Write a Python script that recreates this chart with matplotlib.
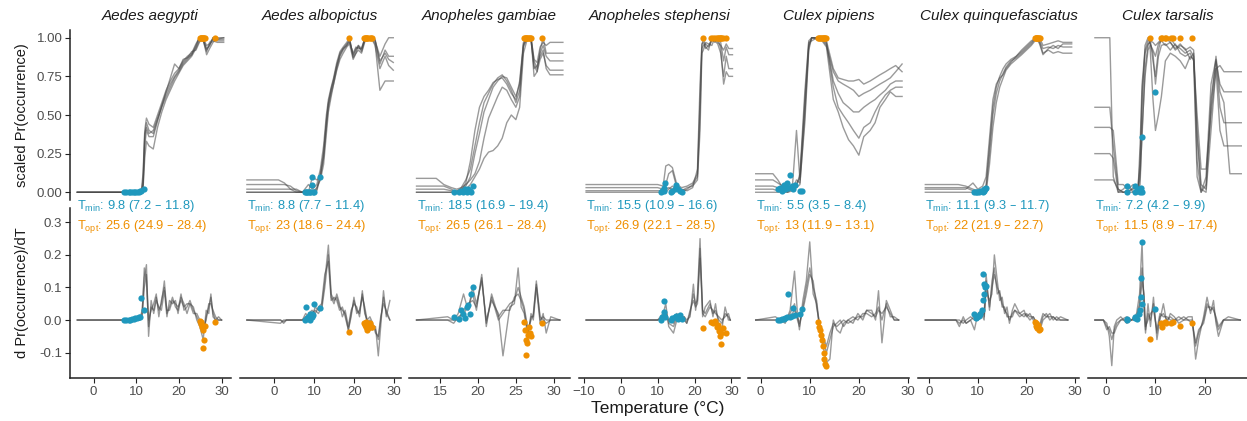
import matplotlib

matplotlib.use("Agg")
import matplotlib.pyplot as plt
import matplotlib.transforms as mtransforms

plt.rcParams["font.family"] = ["Liberation Sans", "DejaVu Sans"]
plt.rcParams["mathtext.default"] = "regular"

# ---- data --------------------------------------------------------------
SPECIES = ["Aedes aegypti", "Aedes albopictus", "Anopheles gambiae",
           "Anopheles stephensi", "Culex pipiens", "Culex quinquefasciatus",
           "Culex tarsalis"]

TMIN_LABEL = ["9.8 (7.2 – 11.8)", "8.8 (7.7 – 11.4)", "18.5 (16.9 – 19.4)",
              "15.5 (10.9 – 16.6)", "5.5 (3.5 – 8.4)", "11.1 (9.3 – 11.7)",
              "7.2 (4.2 – 9.9)"]
TOPT_LABEL = ["25.6 (24.9 – 28.4)", "23 (18.6 – 24.4)", "26.5 (26.1 – 28.4)",
              "26.9 (22.1 – 28.5)", "13 (11.9 – 13.1)", "22 (21.9 – 22.7)",
              "11.5 (8.9 – 17.4)"]

XTICKS = [[0, 10, 20, 30], [0, 10, 20, 30], [15, 20, 25, 30],
          [-10, 0, 10, 20, 30], [0, 10, 20, 30], [0, 10, 20, 30], [0, 10, 20]]

# Aedes aegypti
AEG_T = [-3.8, 10.5, 11.2, 11.6, 12.0, 12.4, 13.0, 14.0, 15.0, 16.0, 17.0, 18.0, 19.0,
         20.0, 21.0, 22.0, 23.0, 24.0, 24.8, 25.6, 26.5, 27.2, 28.0, 29.0, 30.5]
AEG_P = [
    [0, 0, 0, 0.05, 0.35, 0.45, 0.40, 0.38, 0.47, 0.55, 0.62, 0.68, 0.74, 0.78, 0.83, 0.86, 0.89, 0.95, 1.00, 1.00, 0.93, 0.95, 1.00, 0.99, 0.99],
    [0, 0, 0.01, 0.12, 0.40, 0.48, 0.44, 0.42, 0.50, 0.58, 0.66, 0.72, 0.77, 0.80, 0.85, 0.88, 0.90, 0.96, 1.00, 0.99, 0.91, 0.97, 0.99, 0.98, 0.98],
    [0, 0, 0, 0.02, 0.22, 0.33, 0.30, 0.28, 0.42, 0.52, 0.60, 0.66, 0.72, 0.77, 0.82, 0.85, 0.88, 0.93, 0.98, 1.00, 0.89, 0.93, 0.97, 1.00, 1.00],
    [0, 0, 0, 0.03, 0.30, 0.40, 0.36, 0.36, 0.46, 0.56, 0.65, 0.74, 0.83, 0.80, 0.86, 0.87, 0.91, 0.92, 0.97, 1.00, 0.95, 0.96, 0.98, 0.97, 0.97],
    [0, 0, 0, 0.08, 0.38, 0.42, 0.38, 0.40, 0.48, 0.56, 0.64, 0.70, 0.75, 0.79, 0.84, 0.87, 0.89, 0.94, 1.00, 1.00, 0.92, 0.95, 1.00, 0.99, 1.00],
]
AEG_DT = [-3.8, 10.8, 11.4, 11.9, 12.4, 12.9, 13.5, 14.1, 14.7, 15.3, 15.9, 16.6, 17.2, 17.8,
          18.5, 19.2, 19.8, 20.5, 21.2, 21.9, 22.6, 23.4, 24.2, 24.9, 25.7, 26.4, 27.0, 27.5,
          28.0, 28.6, 29.3, 30.0]
AEG_D = [
    [0, 0, 0.02, 0.16, 0.12, -0.02, 0.04, 0.03, 0.07, 0.03, 0.05, 0.12, 0.02, 0.04, 0.07, 0.04, 0.03, 0.08, 0.03, 0.04, 0.06, 0.03, 0.01, -0.01, -0.04, 0.01, 0.04, 0.07, 0.02, 0.0, 0.0, 0.0],
    [0, 0, 0.03, 0.13, 0.17, -0.05, 0.06, 0.02, 0.06, 0.04, 0.03, 0.09, 0.01, 0.06, 0.05, 0.06, 0.02, 0.07, 0.05, 0.02, 0.05, 0.04, 0.0, -0.02, -0.06, 0.03, 0.02, 0.08, 0.01, 0.0, 0.01, 0.0],
    [0, 0, 0.01, 0.10, 0.14, 0.0, 0.03, 0.05, 0.08, 0.01, 0.06, 0.10, 0.03, 0.03, 0.06, 0.05, 0.04, 0.06, 0.04, 0.05, 0.05, 0.02, 0.02, 0.0, -0.03, 0.0, 0.05, 0.05, 0.03, 0.01, 0.0, 0.0],
]
AEG_TMIN_X = [7.2, 7.7, 8.2, 8.6, 9.0, 9.4, 9.8, 10.2, 10.6, 11.0, 11.2, 11.8]
AEG_TMIN_P = [0, 0, 0, 0, 0, 0, 0, 0, 0, 0.01, 0.01, 0.02]
AEG_TMIN_D = [0, 0, 0, 0.001, 0.002, 0.003, 0.005, 0.006, 0.008, 0.01, 0.067, 0.03]
AEG_TOPT_X = [24.9, 25.1, 25.3, 25.5, 25.6, 25.7, 25.9, 26.1, 28.4]
AEG_TOPT_P = [1, 1, 1, 1, 1, 1, 1, 1, 1]
AEG_TOPT_D = [-0.003, -0.006, -0.012, -0.02, -0.03, -0.085, -0.062, -0.018, -0.007]

# Aedes albopictus
ALB_T = [-6.9, 1.0, 2.5, 4.0, 5.5, 7.0, 8.5, 9.5, 10.6, 11.5, 12.3, 13.0, 13.5, 14.2, 14.8,
         15.6, 16.4, 17.2, 18.1, 18.8, 19.7, 20.4, 21.0, 21.8, 22.7, 23.5, 24.4, 25.2, 26.4,
         27.7, 28.6, 29.75]
ALB_P = [
    [0, 0, 0, 0, 0, 0, 0, 0, 0.02, 0.12, 0.26, 0.45, 0.57, 0.66, 0.72, 0.82, 0.90, 0.93, 0.96, 0.98, 0.89, 0.93, 0.94, 0.92, 1.0, 1.0, 1.0, 0.98, 0.85, 0.90, 0.86, 0.84],
    [0.08, 0.08, 0.06, 0.02, 0, 0, 0.05, 0.02, 0.05, 0.15, 0.30, 0.50, 0.60, 0.68, 0.74, 0.84, 0.91, 0.94, 0.97, 1.0, 0.87, 0.90, 0.95, 0.91, 0.99, 1.0, 0.99, 0.95, 0.80, 0.88, 0.82, 0.79],
    [0.05, 0.05, 0.05, 0.04, 0.01, 0, 0, 0.10, 0.08, 0.10, 0.22, 0.42, 0.55, 0.64, 0.70, 0.80, 0.88, 0.92, 0.95, 0.97, 0.90, 0.94, 0.93, 0.93, 1.0, 1.0, 1.0, 0.99, 0.83, 0.92, 0.88, 0.88],
    [0.02, 0.02, 0.02, 0.02, 0.02, 0, 0, 0, 0.03, 0.08, 0.18, 0.38, 0.52, 0.62, 0.70, 0.79, 0.86, 0.90, 0.94, 0.96, 0.86, 0.90, 0.92, 0.90, 0.98, 1.0, 1.0, 0.96, 0.66, 0.72, 0.72, 0.72],
    [0, 0, 0, 0, 0, 0, 0, 0, 0.01, 0.10, 0.24, 0.47, 0.58, 0.67, 0.73, 0.82, 0.89, 0.93, 0.95, 0.99, 0.88, 0.92, 0.95, 0.93, 1.0, 0.99, 1.0, 0.98, 0.88, 0.96, 1.0, 1.0],
]
ALB_DT = [-6.9, 1.5, 2.3, 3.0, 7.0, 7.8, 8.6, 9.4, 10.2, 11.0, 11.8, 12.6, 13.5, 14.2, 14.9,
          15.6, 16.3, 17.0, 17.7, 18.5, 19.2, 19.9, 20.6, 21.3, 22.0, 22.6, 23.2, 23.9, 24.6,
          25.3, 26.0, 26.6, 27.3, 28.0, 28.9]
ALB_D = [
    [0, 0, -0.01, 0, 0, 0.01, 0.0, 0.02, 0.03, 0.02, 0.04, 0.12, 0.23, 0.08, 0.06, 0.07, 0.04, 0.03, 0.02, -0.03, 0.02, 0.06, 0.03, 0.02, 0.08, 0.03, -0.01, 0.0, -0.02, -0.03, -0.06, 0.0, 0.07, 0.02, 0.0],
    [0, -0.01, 0.0, 0, 0, 0.02, 0.01, 0.01, 0.04, 0.03, 0.03, 0.10, 0.20, 0.07, 0.05, 0.08, 0.05, 0.01, 0.03, -0.02, 0.03, 0.05, 0.04, 0.01, 0.09, 0.02, 0.0, -0.01, -0.03, -0.02, -0.11, -0.02, 0.09, 0.01, 0.06],
    [0, 0, -0.005, 0, 0, 0.0, 0.02, 0.03, 0.02, 0.04, 0.05, 0.14, 0.18, 0.06, 0.07, 0.06, 0.03, 0.04, 0.01, -0.03, 0.01, 0.07, 0.02, 0.03, 0.07, 0.04, 0.0, 0.01, -0.01, -0.04, -0.05, 0.01, 0.05, 0.03, 0.0],
]
ALB_TMIN_X = [7.7, 7.9, 8.2, 8.5, 8.8, 9.0, 9.3, 9.3, 9.6, 9.9, 11.4]
ALB_TMIN_P = [0, 0, 0, 0, 0, 0, 0.05, 0.10, 0, 0, 0.10]
ALB_TMIN_D = [0.0, 0.04, 0.005, 0.01, 0.02, 0.0, 0.01, 0.02, 0.015, 0.048, 0.036]
ALB_TOPT_X = [18.7, 22.3, 22.6, 22.9, 23.0, 23.2, 23.5, 23.8, 24.1, 24.4]
ALB_TOPT_P = [1, 1, 1, 1, 1, 1, 1, 1, 1, 1]
ALB_TOPT_D = [-0.036, -0.01, -0.015, -0.02, -0.005, -0.03, -0.025, -0.01, -0.02, -0.022]

# Anopheles gambiae
GAM_T = [11.9, 14.5, 15.5, 16.5, 17.2, 17.8, 18.4, 19.0, 19.6, 20.2, 20.8, 21.4, 22.0, 22.6,
         23.2, 23.8, 24.4, 25.0, 25.5, 26.0, 26.5, 27.0, 27.4, 27.8, 28.2, 28.6, 29.0, 29.5, 31.2]
GAM_P = [
    [0, 0, 0, 0, 0.01, 0.02, 0.04, 0.10, 0.25, 0.38, 0.52, 0.60, 0.68, 0.72, 0.75, 0.74, 0.68, 0.62, 0.70, 0.95, 1.0, 1.0, 0.85, 0.80, 0.90, 0.95, 0.88, 0.85, 0.85],
    [0.02, 0.02, 0.02, 0.01, 0, 0.03, 0.08, 0.15, 0.30, 0.45, 0.58, 0.64, 0.70, 0.74, 0.76, 0.72, 0.66, 0.58, 0.66, 0.96, 1.0, 0.98, 0.82, 0.78, 0.92, 1.0, 0.90, 0.90, 0.90],
    [0.09, 0.09, 0.05, 0.03, 0.02, 0.03, 0.05, 0.08, 0.12, 0.20, 0.35, 0.48, 0.55, 0.62, 0.68, 0.66, 0.60, 0.55, 0.62, 0.94, 1.0, 0.99, 0.80, 0.82, 0.88, 0.92, 0.80, 0.76, 0.76],
    [0.04, 0.04, 0.04, 0.02, 0.0, 0.01, 0.02, 0.05, 0.10, 0.15, 0.22, 0.26, 0.27, 0.30, 0.35, 0.45, 0.50, 0.47, 0.55, 0.90, 0.99, 1.0, 0.75, 0.78, 0.86, 0.90, 0.82, 0.79, 0.79],
    [0, 0, 0, 0, 0, 0.01, 0.06, 0.20, 0.40, 0.55, 0.62, 0.66, 0.71, 0.73, 0.74, 0.70, 0.64, 0.60, 0.72, 0.97, 1.0, 1.0, 0.86, 0.84, 0.94, 0.97, 0.95, 0.97, 0.97],
]
GAM_DT = [11.9, 16.0, 16.8, 17.4, 18.1, 18.7, 19.3, 19.8, 20.5, 21.1, 21.8, 22.7, 23.3, 24.2,
          24.8, 25.3, 25.7, 26.1, 26.6, 27.0, 27.3, 27.7, 28.2, 28.6, 29.0, 29.6, 30.8]
GAM_D = [
    [0, 0, -0.01, 0.01, 0.02, 0.04, 0.08, 0.03, 0.14, -0.02, 0.08, 0.01, 0.03, 0.03, 0.07, 0.08, 0.06, 0.03, -0.04, 0.01, 0.01, 0.12, 0.0, 0.01, 0.0, 0.0, 0.0],
    [0, 0.01, 0.0, 0.02, 0.08, 0.03, 0.10, 0.05, 0.12, 0.0, 0.06, 0.02, -0.11, 0.04, 0.05, 0.16, 0.04, 0.02, -0.05, 0.02, 0.0, 0.10, -0.01, 0.02, -0.04, 0.01, 0.0],
    [0, 0, 0.0, 0.0, 0.03, 0.05, 0.06, 0.04, 0.13, -0.01, 0.07, 0.0, 0.02, 0.05, 0.06, 0.10, 0.07, 0.04, -0.03, 0.0, 0.02, 0.11, 0.01, 0.0, -0.01, 0.0, 0.0],
]
GAM_TMIN_X = [16.9, 17.5, 17.8, 18.0, 18.3, 18.5, 18.7, 18.9, 19.1, 19.4]
GAM_TMIN_P = [0, 0, 0.01, 0, 0.02, 0, 0.02, 0.01, 0, 0.04]
GAM_TMIN_D = [0.01, 0.003, 0.03, 0.02, 0.005, 0.04, 0.045, 0.02, 0.08, 0.10]
GAM_TOPT_X = [26.1, 26.2, 26.3, 26.4, 26.5, 26.6, 26.7, 26.8, 27.0, 28.4]
GAM_TOPT_P = [1, 1, 1, 1, 1, 1, 1, 1, 1, 1]
GAM_TOPT_D = [-0.005, -0.03, -0.06, -0.108, -0.07, -0.045, -0.02, -0.04, -0.05, -0.008]

# Anopheles stephensi
STE_T = [-9.4, 10.0, 11.5, 12.2, 13.0, 14.0, 15.2, 16.5, 18.0, 19.5, 20.8, 21.5, 22.0, 22.4,
         23.0, 23.8, 24.7, 25.5, 26.3, 27.1, 27.9, 28.6, 29.3, 30.3]
STE_P = [
    [0, 0, 0, 0.02, 0.03, 0.02, 0.01, 0.0, 0.02, 0.05, 0.10, 0.50, 0.93, 0.95, 0.96, 0.94, 0.98, 1.0, 0.97, 0.95, 0.92, 0.96, 0.93, 0.93],
    [0.05, 0.05, 0.04, 0.17, 0.18, 0.16, 0.05, 0.03, 0.04, 0.06, 0.12, 0.60, 0.95, 1.0, 0.94, 0.92, 1.0, 0.98, 0.96, 0.90, 0.75, 0.88, 0.80, 0.80],
    [0.03, 0.03, 0.02, 0.05, 0.12, 0.14, 0.03, 0.01, 0.03, 0.04, 0.08, 0.40, 0.90, 0.92, 0.97, 0.96, 0.95, 1.0, 1.0, 0.97, 0.85, 0.94, 0.89, 0.89],
    [0.01, 0.01, 0.01, 0.0, 0.02, 0.04, 0.02, 0.02, 0.01, 0.03, 0.15, 0.70, 0.96, 0.97, 0.93, 0.95, 0.99, 0.97, 1.0, 0.93, 0.70, 0.78, 0.75, 0.75],
]
STE_DT = [-9.4, 10.0, 11.5, 12.2, 13.0, 14.3, 15.2, 16.2, 17.2, 17.9, 18.8, 19.7, 20.3, 20.8,
          21.5, 22.2, 22.9, 24.2, 25.0, 25.7, 26.6, 27.4, 28.3, 29.2, 29.7]
STE_D = [
    [0, 0, 0.01, 0.03, -0.01, -0.02, 0.01, 0.0, 0.0, -0.01, 0.02, 0.08, 0.05, 0.06, 0.22, 0.03, 0.02, 0.05, 0.02, 0.03, 0.0, -0.01, 0.02, 0.01, 0.0],
    [0, 0, 0.02, 0.05, -0.02, -0.04, 0.0, 0.01, 0.01, 0.0, 0.01, 0.11, 0.03, 0.08, 0.25, 0.01, 0.04, 0.06, 0.01, 0.05, -0.02, -0.03, 0.04, 0.0, 0.0],
    [0, 0, 0.0, 0.02, 0.0, -0.01, 0.02, 0.0, 0.01, -0.01, 0.03, 0.06, 0.04, 0.05, 0.19, 0.02, 0.01, 0.04, 0.03, 0.02, 0.01, 0.0, 0.01, 0.02, 0.0],
]
STE_TMIN_X = [10.9, 11.3, 11.6, 11.8, 12.0, 13.5, 14.0, 14.6, 15.0, 15.5, 16.0, 16.6]
STE_TMIN_P = [0, 0.01, 0.01, 0.03, 0.06, 0.0, 0.01, 0.02, 0.05, 0.02, 0.01, 0.0]
STE_TMIN_D = [0.0, 0.01, 0.026, 0.057, 0.01, 0.0, 0.005, 0.01, 0.012, 0.003, 0.015, 0.002]
STE_TOPT_X = [22.2, 24.6, 25.0, 25.5, 26.0, 26.3, 26.6, 26.9, 27.1, 27.3, 27.6, 28.5]
STE_TOPT_P = [1, 1, 1, 1, 1, 1, 1, 1, 1, 1, 1, 1]
STE_TOPT_D = [-0.024, -0.005, -0.01, -0.003, -0.02, -0.015, -0.035, -0.05, -0.075, -0.04, -0.025, -0.04]

# Culex pipiens
PIP_T = [-1.0, 2.5, 3.5, 4.5, 5.5, 6.5, 7.3, 8.0, 9.0, 9.8, 10.4, 11.5, 12.5, 13.4, 14.8,
         15.8, 16.8, 17.9, 18.9, 20.0, 21.0, 22.3, 23.3, 24.3, 25.4, 26.4, 27.5, 28.8]
PIP_P = [
    [0.02, 0.02, 0.01, 0.02, 0.0, 0.03, 0.05, 0.10, 0.55, 0.95, 1.0, 1.0, 1.0, 0.97, 0.72, 0.64, 0.58, 0.55, 0.52, 0.52, 0.55, 0.58, 0.60, 0.63, 0.66, 0.70, 0.72, 0.72],
    [0.08, 0.08, 0.06, 0.04, 0.02, 0.05, 0.40, 0.08, 0.60, 0.97, 0.98, 1.0, 0.99, 0.95, 0.78, 0.72, 0.70, 0.68, 0.66, 0.62, 0.64, 0.66, 0.68, 0.70, 0.72, 0.74, 0.78, 0.83],
    [0.12, 0.12, 0.08, 0.03, 0.05, 0.02, 0.08, 0.06, 0.45, 0.92, 1.0, 0.99, 1.0, 0.96, 0.68, 0.55, 0.50, 0.45, 0.40, 0.35, 0.42, 0.45, 0.52, 0.58, 0.63, 0.66, 0.68, 0.68],
    [0.04, 0.04, 0.03, 0.01, 0.01, 0.02, 0.03, 0.05, 0.50, 0.94, 1.0, 1.0, 0.98, 0.94, 0.60, 0.52, 0.42, 0.34, 0.30, 0.24, 0.36, 0.40, 0.45, 0.55, 0.60, 0.65, 0.62, 0.62],
    [0.0, 0.0, 0.0, 0.0, 0.0, 0.01, 0.04, 0.12, 0.65, 0.98, 1.0, 1.0, 1.0, 0.98, 0.80, 0.74, 0.73, 0.72, 0.72, 0.73, 0.70, 0.72, 0.74, 0.76, 0.78, 0.80, 0.82, 0.78],
]
PIP_DT = [-1.0, 3.0, 5.0, 6.0, 6.9, 7.5, 7.9, 8.6, 9.3, 10.0, 10.7, 11.4, 12.0, 12.7, 13.4,
          14.1, 14.8, 15.5, 16.2, 16.9, 17.8, 18.8, 19.8, 20.8, 21.6, 22.6, 23.4, 24.0, 24.7,
          25.6, 26.4, 27.2, 28.1]
PIP_D = [
    [0, 0, 0.0, 0.02, 0.05, 0.0, -0.02, 0.04, 0.10, 0.16, 0.10, 0.06, -0.02, -0.05, -0.08, -0.04, -0.01, -0.02, -0.01, 0.0, -0.01, 0.0, 0.01, 0.01, 0.03, 0.02, 0.01, 0.03, 0.02, 0.04, 0.02, 0.0, 0.0],
    [0, 0.01, -0.01, 0.03, 0.15, 0.02, -0.03, 0.06, 0.12, 0.24, 0.08, 0.05, -0.03, -0.08, -0.13, -0.12, 0.0, -0.03, -0.04, -0.01, 0.0, -0.01, 0.02, 0.0, 0.03, 0.03, 0.0, 0.09, -0.07, 0.06, 0.03, 0.0, 0.0],
    [0, 0, 0.01, 0.01, 0.03, 0.01, -0.01, 0.03, 0.08, 0.14, 0.12, 0.04, -0.01, -0.06, -0.10, -0.06, -0.02, -0.01, 0.0, -0.02, 0.0, 0.01, 0.0, 0.02, 0.02, 0.01, 0.02, 0.04, 0.0, 0.05, 0.01, 0.01, 0.0],
]
PIP_TMIN_X = [3.5, 3.9, 4.3, 4.7, 5.0, 5.3, 5.6, 5.9, 6.3, 6.6, 7.0, 8.0, 8.4]
PIP_TMIN_P = [0.02, 0.03, 0.01, 0.05, 0.02, 0.06, 0.03, 0.11, 0.04, 0.02, 0.05, 0.01, 0.01]
PIP_TMIN_D = [0.0, 0.0, 0.002, 0.004, 0.005, 0.008, 0.08, 0.01, 0.012, 0.036, 0.015, 0.02, 0.033]
PIP_TOPT_X = [11.7, 11.9, 12.1, 12.3, 12.5, 12.7, 12.9, 13.0, 13.1, 13.3]
PIP_TOPT_P = [1, 1, 1, 1, 1, 1, 1, 1, 1, 1]
PIP_TOPT_D = [-0.005, -0.02, -0.03, -0.045, -0.06, -0.08, -0.10, -0.12, -0.135, -0.14]

# Culex quinquefasciatus
QUI_T = [-0.8, 6.0, 7.5, 9.0, 10.0, 11.0, 11.7, 12.4, 13.1, 13.8, 14.5, 15.2, 15.8, 16.8,
         17.9, 19.0, 20.0, 21.0, 22.0, 22.7, 23.4, 24.5, 25.5, 26.5, 27.5, 29.3]
QUI_P = [
    [0.0, 0.0, 0.0, 0.0, 0.0, 0.0, 0.02, 0.25, 0.50, 0.64, 0.72, 0.77, 0.81, 0.85, 0.87, 0.90, 0.93, 0.96, 1.0, 0.98, 0.93, 0.94, 0.93, 0.95, 0.94, 0.94],
    [0.05, 0.05, 0.04, 0.02, 0.01, 0.0, 0.05, 0.30, 0.55, 0.68, 0.75, 0.80, 0.83, 0.86, 0.88, 0.91, 0.94, 0.97, 1.0, 0.97, 0.90, 0.92, 0.90, 0.91, 0.90, 0.90],
    [0.03, 0.03, 0.03, 0.01, 0.0, 0.02, 0.0, 0.18, 0.42, 0.58, 0.68, 0.74, 0.79, 0.83, 0.86, 0.89, 0.92, 0.95, 0.99, 1.0, 0.95, 0.96, 0.97, 0.98, 0.97, 0.97],
    [0.02, 0.02, 0.02, 0.06, 0.02, 0.04, 0.10, 0.35, 0.60, 0.70, 0.74, 0.76, 0.80, 0.84, 0.88, 0.92, 0.95, 0.98, 1.0, 0.96, 0.89, 0.93, 0.95, 0.93, 0.96, 0.96],
]
QUI_DT = [-0.8, 5.5, 6.2, 7.0, 7.6, 8.5, 9.3, 10.0, 10.7, 11.3, 11.7, 12.4, 12.9, 13.4, 14.0,
          14.5, 15.0, 15.5, 16.0, 16.5, 17.1, 17.6, 18.6, 19.5, 20.0, 20.7, 21.4, 22.1, 22.8,
          23.4, 24.1, 24.8, 25.5, 26.2, 27.0, 28.5]
QUI_D = [
    [0, 0, -0.01, 0.0, -0.01, 0.0, 0.01, 0.0, 0.02, 0.0, 0.12, 0.04, 0.10, 0.14, 0.10, 0.08, 0.05, 0.03, 0.02, 0.0, 0.02, 0.03, 0.01, 0.02, 0.015, 0.0, 0.01, -0.01, -0.02, 0.01, 0.02, 0.0, 0.01, 0.0, 0.0, 0.0],
    [0, 0, -0.02, 0.01, -0.01, 0.0, -0.03, 0.02, 0.03, 0.01, 0.09, 0.06, 0.08, 0.20, 0.12, 0.06, 0.07, 0.02, 0.04, -0.01, 0.03, 0.05, 0.02, 0.03, 0.01, 0.02, 0.0, -0.02, -0.01, 0.02, 0.01, 0.02, 0.0, 0.01, 0.0, 0.0],
    [0, 0, 0.0, -0.01, 0.0, 0.01, 0.0, 0.01, 0.01, 0.02, 0.14, 0.03, 0.12, 0.16, 0.08, 0.09, 0.04, 0.04, 0.01, 0.01, 0.01, 0.03, 0.02, 0.01, 0.02, 0.01, 0.01, -0.01, -0.03, 0.0, 0.01, 0.01, 0.01, 0.0, 0.01, 0.0],
]
QUI_TMIN_X = [9.3, 9.6, 9.9, 10.2, 10.5, 10.8, 11.0, 11.1, 11.2, 11.3, 11.5, 11.7]
QUI_TMIN_P = [0.0, 0.0, 0.0, 0.0, 0.01, 0.01, 0.01, 0.0, 0.02, 0.01, 0.02, 0.03]
QUI_TMIN_D = [0.02, 0.005, 0.01, 0.012, 0.02, 0.03, 0.06, 0.142, 0.11, 0.08, 0.10, 0.105]
QUI_TOPT_X = [21.7, 21.9, 22.0, 22.1, 22.2, 22.3, 22.5, 22.7]
QUI_TOPT_P = [1, 1, 1, 1, 1, 1, 1, 1]
QUI_TOPT_D = [-0.005, -0.01, -0.018, -0.02, -0.025, -0.015, -0.03, -0.028]

# Culex tarsalis
TAR_T = [-2.2, 0.8, 1.5, 2.5, 3.5, 4.5, 5.5, 6.5, 6.9, 7.3, 7.9, 8.5, 8.9, 9.5, 10.0, 10.6,
         11.2, 12.0, 13.0, 14.0, 15.0, 16.0, 17.0, 17.7, 18.4, 19.2, 20.2, 21.2, 22.2, 23.0,
         23.8, 25.0, 27.3]
TAR_P = [
    [0.55, 0.55, 0.30, 0.02, 0.0, 0.0, 0.0, 0.02, 0.30, 0.70, 0.92, 0.98, 1.0, 0.85, 0.75, 0.92, 1.0, 0.98, 1.0, 0.95, 0.93, 0.90, 0.92, 0.88, 0.20, 0.0, 0.05, 0.60, 0.85, 0.70, 0.65, 0.65, 0.65],
    [1.0, 1.0, 0.10, 0.0, 0.02, 0.05, 0.0, 0.0, 0.10, 0.36, 0.80, 0.95, 0.98, 0.97, 0.95, 0.97, 0.99, 1.0, 0.97, 0.92, 0.95, 0.93, 0.86, 0.90, 0.35, 0.02, 0.0, 0.40, 0.80, 0.82, 0.78, 0.78, 0.78],
    [0.42, 0.42, 0.40, 0.05, 0.05, 0.02, 0.05, 0.03, 0.15, 0.65, 0.90, 0.96, 0.97, 0.90, 0.70, 0.88, 0.95, 0.96, 0.92, 0.96, 0.90, 0.88, 0.90, 0.85, 0.10, 0.0, 0.10, 0.70, 0.86, 0.55, 0.45, 0.45, 0.45],
    [0.25, 0.25, 0.22, 0.0, 0.0, 0.0, 0.03, 0.01, 0.05, 0.40, 0.75, 0.92, 0.95, 0.60, 0.40, 0.50, 0.62, 0.85, 0.90, 0.88, 0.85, 0.80, 0.88, 0.86, 0.50, 0.15, 0.15, 0.50, 0.80, 0.40, 0.30, 0.30, 0.30],
    [0.08, 0.08, 0.08, 0.02, 0.0, 0.01, 0.02, 0.04, 0.20, 0.55, 0.95, 1.0, 0.96, 0.92, 0.88, 0.96, 0.98, 0.95, 0.97, 0.93, 0.96, 0.92, 0.94, 0.92, 0.40, 0.05, 0.02, 0.55, 0.88, 0.65, 0.58, 0.12, 0.12],
]
TAR_DT = [-2.2, -0.5, 0.2, 0.7, 1.2, 1.7, 2.2, 3.0, 4.2, 5.2, 6.2, 6.8, 7.3, 7.7, 8.0, 8.5,
          9.0, 9.6, 10.3, 10.9, 11.6, 12.3, 13.0, 13.8, 14.7, 15.7, 16.6, 17.4, 18.1, 18.7,
          19.7, 20.4, 21.1, 21.7, 22.2, 22.7, 23.7, 24.7, 27.1]
TAR_D = [
    [0, 0, -0.02, -0.03, -0.06, -0.03, -0.01, 0.0, 0.0, 0.0, 0.01, 0.05, 0.16, 0.06, -0.03, 0.02, 0.0, 0.05, -0.04, 0.01, 0.02, 0.0, 0.01, 0.0, 0.0, 0.01, 0.0, 0.0, -0.08, -0.04, 0.0, 0.05, 0.03, 0.04, 0.0, -0.03, 0.0, 0.0, 0.0],
    [0, 0, -0.01, -0.05, -0.14, -0.02, 0.0, 0.01, -0.01, 0.0, 0.02, 0.08, 0.24, 0.03, -0.04, 0.05, -0.02, 0.07, -0.06, 0.0, 0.05, -0.01, 0.02, 0.01, -0.01, 0.0, 0.01, 0.01, -0.12, -0.06, 0.01, 0.07, 0.02, 0.06, -0.01, -0.05, 0.0, 0.01, 0.0],
    [0, 0, -0.03, -0.02, -0.04, -0.04, -0.02, 0.0, 0.01, 0.0, 0.0, 0.04, 0.12, 0.08, -0.02, 0.0, 0.02, 0.03, -0.03, 0.02, 0.01, 0.01, 0.0, 0.0, 0.01, 0.0, 0.0, -0.01, -0.07, -0.03, -0.01, 0.04, 0.04, 0.03, 0.01, -0.02, 0.0, 0.0, 0.0],
]
TAR_TMIN_X = [4.2, 4.2, 5.9, 5.9, 6.3, 6.6, 6.8, 7.0, 7.1, 7.2, 7.3, 9.9]
TAR_TMIN_P = [0.04, 0.0, 0.04, 0.0, 0.01, 0.02, 0.0, 0.01, 0.03, 0.0, 0.36, 0.65]
TAR_TMIN_D = [0.0, 0.002, 0.005, 0.01, 0.003, 0.02, 0.03, 0.07, 0.13, 0.24, 0.05, 0.033]
TAR_TOPT_X = [8.9, 11.2, 11.4, 11.9, 12.2, 13.2, 13.6, 15.0, 17.4]
TAR_TOPT_P = [1, 1, 1, 1, 1, 1, 1, 1, 1]
TAR_TOPT_D = [-0.057, -0.01, -0.02, -0.005, -0.008, -0.01, -0.005, -0.018, -0.008]

PANELS = [
    (AEG_T, AEG_P, AEG_DT, AEG_D, AEG_TMIN_X, AEG_TMIN_P, AEG_TMIN_D, AEG_TOPT_X, AEG_TOPT_P, AEG_TOPT_D),
    (ALB_T, ALB_P, ALB_DT, ALB_D, ALB_TMIN_X, ALB_TMIN_P, ALB_TMIN_D, ALB_TOPT_X, ALB_TOPT_P, ALB_TOPT_D),
    (GAM_T, GAM_P, GAM_DT, GAM_D, GAM_TMIN_X, GAM_TMIN_P, GAM_TMIN_D, GAM_TOPT_X, GAM_TOPT_P, GAM_TOPT_D),
    (STE_T, STE_P, STE_DT, STE_D, STE_TMIN_X, STE_TMIN_P, STE_TMIN_D, STE_TOPT_X, STE_TOPT_P, STE_TOPT_D),
    (PIP_T, PIP_P, PIP_DT, PIP_D, PIP_TMIN_X, PIP_TMIN_P, PIP_TMIN_D, PIP_TOPT_X, PIP_TOPT_P, PIP_TOPT_D),
    (QUI_T, QUI_P, QUI_DT, QUI_D, QUI_TMIN_X, QUI_TMIN_P, QUI_TMIN_D, QUI_TOPT_X, QUI_TOPT_P, QUI_TOPT_D),
    (TAR_T, TAR_P, TAR_DT, TAR_D, TAR_TMIN_X, TAR_TMIN_P, TAR_TMIN_D, TAR_TOPT_X, TAR_TOPT_P, TAR_TOPT_D),
]

# ---- styling ---------------------------------------------------------------
BLUE = "#1f98bd"
ORANGE = "#ef8f00"
LINE = "#484848"
AXIS = "#222222"
TICK_TXT = "#4d4d4d"

W, H = 1247, 421
fig = plt.figure(figsize=(W / 100, H / 100), dpi=100)


def frac_box(left, top, width, height):
    return [left / W, 1 - (top + height) / H, width / W, height / H]


def style(ax, left_axis, bottom_axis):
    for side in ("top", "right"):
        ax.spines[side].set_visible(False)
    ax.spines["left"].set_visible(left_axis)
    ax.spines["bottom"].set_visible(bottom_axis)
    for side in ("left", "bottom"):
        ax.spines[side].set_color(AXIS)
        ax.spines[side].set_linewidth(1.1)
    ax.tick_params(axis="y", left=left_axis, labelleft=left_axis, length=3.5,
                   width=0.8, color=AXIS, labelcolor=TICK_TXT, labelsize=9.5, pad=2)
    ax.tick_params(axis="x", bottom=bottom_axis, labelbottom=bottom_axis, length=3.5,
                   width=0.8, color=AXIS, labelcolor=TICK_TXT, labelsize=9.5, pad=2)


PANEL_W = 161
STEP = 169.6
for i, name in enumerate(SPECIES):
    t, reps, dt, dreps, tmin_x, tmin_p, tmin_d, topt_x, topt_p, topt_d = PANELS[i]
    left = 70 + i * STEP
    ax_top = fig.add_axes(frac_box(left, 30, PANEL_W, 170))
    ax_bot = fig.add_axes(frac_box(left, 208, PANEL_W, 170))

    for rep in reps:
        ax_top.plot(t, rep, color=LINE, lw=1.0, alpha=0.55)
    ax_top.scatter(tmin_x, tmin_p, s=20, color=BLUE, zorder=3, linewidths=0)
    ax_top.scatter(topt_x, topt_p, s=20, color=ORANGE, zorder=3, linewidths=0)

    for rep in dreps:
        ax_bot.plot(dt, rep, color=LINE, lw=1.0, alpha=0.55)
    ax_bot.scatter(tmin_x, tmin_d, s=20, color=BLUE, zorder=3, linewidths=0)
    ax_bot.scatter(topt_x, topt_d, s=20, color=ORANGE, zorder=3, linewidths=0)

    # ggplot-style 5% expansion around the data range
    lo = min(t[0], dt[0])
    hi = max(t[-1], dt[-1])
    pad = 0.05 * (hi - lo)
    for ax in (ax_top, ax_bot):
        ax.set_xlim(lo - pad, hi + pad)
        ax.set_xticks(XTICKS[i])
    ax_top.set_ylim(-0.05, 1.05)
    ax_top.set_yticks([0, 0.25, 0.5, 0.75, 1.0])
    ax_top.set_yticklabels(["0.00", "0.25", "0.50", "0.75", "1.00"])
    ax_bot.set_ylim(-0.178, 0.344)
    ax_bot.set_yticks([-0.1, 0.0, 0.1, 0.2, 0.3])
    ax_bot.set_yticklabels(["-0.1", "0.0", "0.1", "0.2", "0.3"])

    style(ax_top, left_axis=(i == 0), bottom_axis=False)
    style(ax_bot, left_axis=(i == 0), bottom_axis=True)

    ax_top.set_title(name, fontsize=11, style="italic", color="#1a1a1a", pad=7)

    trans = mtransforms.blended_transform_factory(ax_bot.transData, ax_bot.transAxes)
    ax_bot.text(t[0], 1.012, "T$_{min}$: " + TMIN_LABEL[i], transform=trans,
                color=BLUE, fontsize=9.3, ha="left", va="center", clip_on=False)
    ax_bot.text(t[0], 0.894, "T$_{opt}$: " + TOPT_LABEL[i], transform=trans,
                color=ORANGE, fontsize=9.3, ha="left", va="center", clip_on=False)

fig.text(22 / W, 1 - 115 / H, "scaled Pr(occurrence)", rotation=90, ha="center",
         va="center", fontsize=10.5, color="#1a1a1a")
fig.text(22 / W, 1 - 293 / H, "d Pr(occurrence)/dT", rotation=90, ha="center",
         va="center", fontsize=10.5, color="#1a1a1a")
fig.text(658 / W, 1 - 409 / H, "Temperature (°C)", ha="center", va="center",
         fontsize=12.5, color="#1a1a1a")

fig.savefig("out.png", dpi=100)
